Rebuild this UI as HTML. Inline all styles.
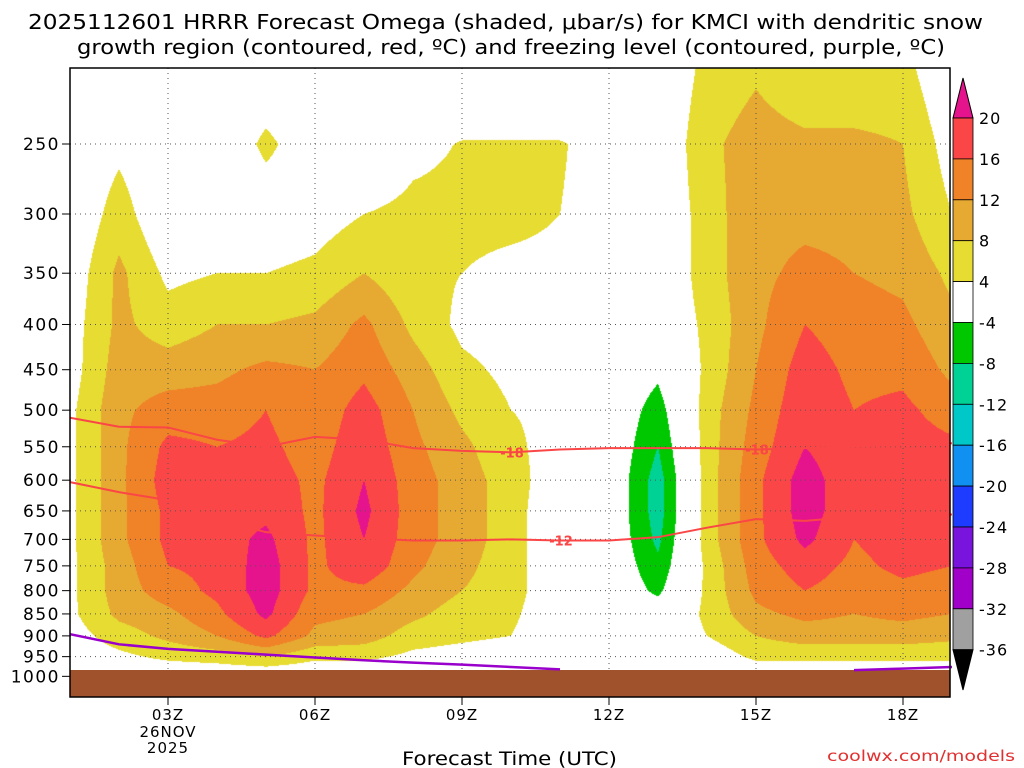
<!DOCTYPE html>
<html><head><meta charset="utf-8">
<style>
body{margin:0;background:#fff;width:1024px;height:768px;overflow:hidden;font-family:"DejaVu Sans","Liberation Sans",sans-serif;}
#wrap{position:relative;width:1024px;height:768px;}
canvas,svg{position:absolute;left:0;top:0;}
svg text{font-family:"DejaVu Sans","Liberation Sans",sans-serif;}
</style></head>
<body>
<div id="wrap">
<canvas id="cv" width="1024" height="768"></canvas>
<svg id="sv" width="1024" height="768"></svg>
</div>
<script>
// ---- data ----
const hours = [1,2,3,4,5,6,7,8,9,10,11,12,13,14,15,16,17,18,19];
const levels = [200,250,300,350,400,450,500,550,600,650,700,750,800,850,900,950,1000];
// omega (microbar/s) per hour column, values top (200mb) to bottom (1000mb)
const omega = [
[0,0,0,1,2,2,3,3,3,3,3,3,3,3,2,1,0],
[0,3,6,9,9,10,11,11,11,11,11,10,10,9,6,3,0],
[0,0,0,3,6,10,14,17,18,17,17,16,14,11,9,5,0],
[0,0,0,4,8,11,14,16,18,18,18,17,17,15,12,6,0],
[0,5,1,4,8,13,16,17,18,19,21,22,22,21,17,8,0],
[0,1,2,5,9,12,13,14,15,15,15,15,15,13,11,5,0],
[0,0,4,8,13,15,18,19,20,21,20,19,15,12,10,5,0],
[0,3,5,5,7,10,12,13,14,14,14,13,11,9,6,3,0],
[0,4.2,5,4,3,5,7,9,10,10,10,9,8,6,5,2,0],
[0,4.2,5,3,2,3,4,5,6,6,6,6,6,5,4,1,0],
[0,4.2,4,3,4,4,3,2,1,0,0,0,0,0,0,0,0],
[0,3,3,1,0,0,0,0,0,0,0,0,0,0,0,0,0],
[0,0,0,0,0,-3,-6,-8,-10,-10,-9,-7,-5,-1,0,0,0],
[5,7,6,6,5,5,6,6,6,6,6,5,5,5,4,1,0],
[7,10,11,11,11,12,13,14,15,15,15,14,13,11,8,5,0],
[4,9,11,13,16,18,19,20,22,22,21,18,16,13,10,5,0],
[4,9,11,12,14,15,16,17,17,17,16,15,14,12,10,5,0],
[5,8,9,11,13,15,17,18,18,18,18,17,15,13,10,5,0],
[0,2,4,7,9,11,14,17,17,17,17,16,14,12,9,5,0]];
const dgz18 = [510,522,523,540,550,536,540,552,556,558,554,552,552,552,554,552,549,548,545];
const dgz12 = [603,619,632,664,687,693,698,702,702,700,702,702,696,679,664,667,660,658,656];
const frz = [896,920,931,938,945,952,959,965,970,976,982,null,null,null,null,null,984,980,976];
const thresholds = [-36,-32,-28,-24,-20,-16,-12,-8,-4,4,8,12,16,20];
const colors = ['#000000','#a0a0a0','#a000c8','#7814dc','#1e3cff','#1090f0','#00c8c8','#00d296','#00c800','#ffffff','#e6dc32','#e6aa32','#f08228','#fa4646','#e6148c'];
const pTicks = [250,300,350,400,450,500,550,600,650,700,750,800,850,900,950,1000];
const xTicks = [3,6,9,12,15,18];
const cbLabels = [20,16,12,8,4,-4,-8,-12,-16,-20,-24,-28,-32,-36];

// ---- axes ----
const X0=70,X1=950,Y0=68,Y1=697;
const xs = h => 168+(h-3)*49;
const ys = p => 144+384*Math.log(p/250);
const hOf = x => 3+(x-168)/49;
const pOf = y => 250*Math.exp((y-144)/384);

function colorOf(v){let i=0;while(i<thresholds.length && v>=thresholds[i])i++;return colors[i];}
function val(h,p){
  let fi=Math.max(0,Math.min(hours.length-1.0001,h-hours[0]));
  let fj=Math.max(0,Math.min(levels.length-1.0001,(p-levels[0])/50));
  let i=Math.floor(fi),j=Math.floor(fj),a=fi-i,b=fj-j;
  return omega[i][j]*(1-a)*(1-b)+omega[i+1][j]*a*(1-b)+omega[i][j+1]*(1-a)*b+omega[i+1][j+1]*a*b;
}
const ctx=document.getElementById('cv').getContext('2d');
for(let y=Y0;y<Y1;y++){for(let x=X0;x<X1;x++){ctx.fillStyle=colorOf(val(hOf(x+0.5),pOf(y+0.5)));ctx.fillRect(x,y,1,1);}}

const NS='http://www.w3.org/2000/svg';
const sv=document.getElementById('sv');
function mk(tag,attrs,name,txt){const e=document.createElementNS(NS,tag);for(const k in attrs)e.setAttribute(k,attrs[k]);


if(txt!==undefined)e.textContent=txt;sv.appendChild(e);return e;}

// grid
pTicks.forEach(p=>{if(p<1000)mk('line',{x1:X0,x2:X1,y1:ys(p),y2:ys(p),stroke:'#555','stroke-width':1,'stroke-dasharray':'1,4'},'h-gridline');});
xTicks.forEach(h=>mk('line',{x1:xs(h),x2:xs(h),y1:Y0,y2:Y1,stroke:'#555','stroke-width':1,'stroke-dasharray':'1,4'},'v-gridline'));

// contour lines
function pathOf(arr){let d='',pen=false;arr.forEach((p,i)=>{if(p===null){pen=false;return;}d+=(pen?'L':'M')+xs(hours[i])+','+ys(p)+' ';pen=true;});return d;}
mk('path',{d:pathOf(dgz18),fill:'none',stroke:'#fa4646','stroke-width':2},'dgz-minus18-contour');
mk('path',{d:pathOf(dgz12),fill:'none',stroke:'#fa4646','stroke-width':2},'dgz-minus12-contour');
// ground
mk('rect',{x:X0,y:670,width:X1-X0,height:Y1-670,fill:'#a0522d'},'ground');
mk('path',{d:pathOf(frz),fill:'none',stroke:'#9900cc','stroke-width':2.5},'freezing-level-contour');
[[10,dgz18[9],'-18'],[15,dgz18[14],'-18'],[11,dgz12[10],'-12']].forEach(l=>{
  mk('text',{x:xs(l[0])+1,y:ys(l[1])+5,'font-size':13,'font-weight':'bold',fill:'#fa4646','text-anchor':'middle'},'contour-label',l[2]);
});
// border
mk('rect',{x:X0,y:Y0,width:X1-X0,height:Y1-Y0,fill:'none',stroke:'#000','stroke-width':1.5},'plot-border');
// y ticks
pTicks.forEach(p=>{mk('line',{x1:X0-8,x2:X0,y1:ys(p),y2:ys(p),stroke:'#000'},'y-tick');
  mk('text',{x:X0-10,y:ys(p)+6,'font-size':17,'text-anchor':'end',fill:'#000','letter-spacing':'1.5'},'y-tick-label',String(p));});
// x ticks
xTicks.forEach(h=>{mk('line',{x1:xs(h),x2:xs(h),y1:Y1,y2:Y1+8,stroke:'#000'},'x-tick');
  mk('text',{x:xs(h),y:720,'font-size':15,'text-anchor':'middle','letter-spacing':'1'},'x-tick-label',(h<10?'0':'')+h+'Z');});
mk('text',{x:168,y:737,'font-size':15,'text-anchor':'middle','letter-spacing':'1'},'date-label','26NOV');
mk('text',{x:168,y:753,'font-size':15,'text-anchor':'middle','letter-spacing':'1'},'year-label','2025');
mk('text',{x:402,y:765,'font-size':19,textLength:215,lengthAdjust:'spacingAndGlyphs'},'x-axis-title','Forecast Time (UTC)');
mk('text',{x:827,y:761,'font-size':15,fill:'#e03030',textLength:188,lengthAdjust:'spacingAndGlyphs'},'source-credit','coolwx.com/models');
mk('text',{x:28,y:29,'font-size':20,textLength:955,lengthAdjust:'spacingAndGlyphs'},'title-line1','2025112601 HRRR Forecast Omega (shaded, μbar/s) for KMCI with dendritic snow');
mk('text',{x:77,y:54,'font-size':20,textLength:868,lengthAdjust:'spacingAndGlyphs'},'title-line2','growth region (contoured, red, ºC) and freezing level (contoured, purple, ºC)');
// colorbar
const cbX=953,cbW=20,cbTop=118,cbStep=40.9;
mk('polygon',{points:`${cbX},${cbTop} ${cbX+cbW},${cbTop} ${cbX+cbW/2},78`,fill:colors[14],stroke:'#000'},'colorbar-top-arrow');
for(let k=0;k<13;k++){mk('rect',{x:cbX,y:cbTop+k*cbStep,width:cbW,height:cbStep,fill:colors[13-k],stroke:'#000','stroke-width':0.8},'colorbar-box');}
const cbBot=cbTop+13*cbStep;
mk('polygon',{points:`${cbX},${cbBot} ${cbX+cbW},${cbBot} ${cbX+cbW/2},690`,fill:colors[0],stroke:'#000'},'colorbar-bottom-arrow');
cbLabels.forEach((v,k)=>mk('text',{x:979,y:cbTop+k*cbStep+6,'font-size':16,'letter-spacing':'1'},'colorbar-label',String(v)));
</script>
</body></html>
